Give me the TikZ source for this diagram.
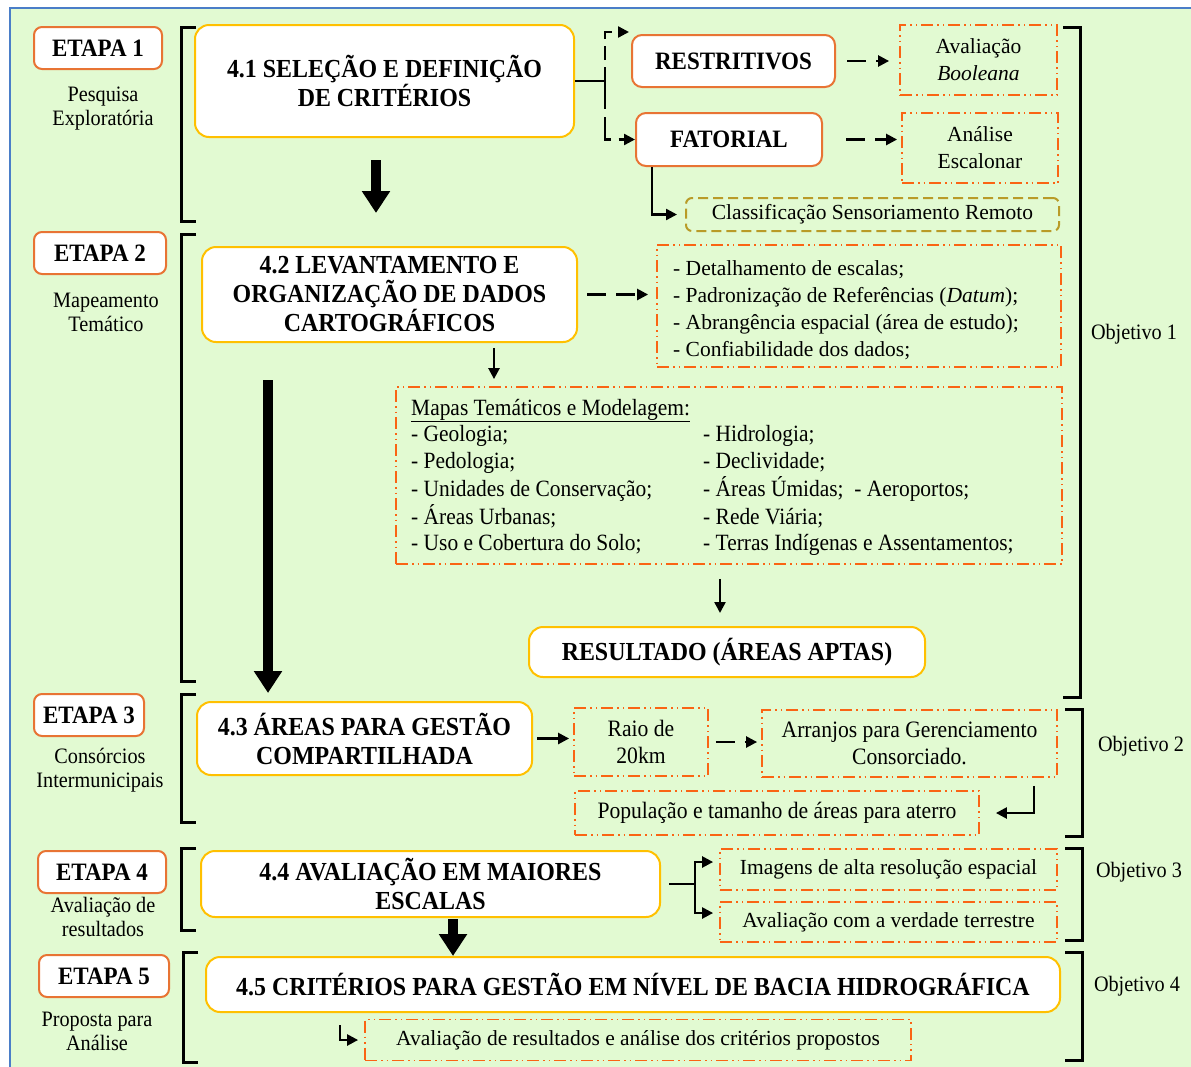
\documentclass[tikz,border=0pt]{standalone}
\usepackage{fontspec}
\setmainfont{Liberation Serif}
\newfontfamily\cf[FakeStretch=0.92]{Liberation Serif}
\usetikzlibrary{arrows.meta,calc}
\definecolor{bggreen}{RGB}{226,250,210}
\definecolor{bordblue}{RGB}{74,126,200}
\definecolor{etorange}{RGB}{232,116,52}
\definecolor{ddorange}{RGB}{250,100,20}
\definecolor{goldc}{RGB}{255,192,0}
\definecolor{olivec}{RGB}{185,155,40}
\tikzset{
  etapa/.style={draw=etorange, line width=2pt, rounded corners=8pt, fill=white, inner sep=0pt,
    font=\cf\bfseries\fontsize{25}{29}\selectfont},
  sublab/.style={inner sep=0pt, align=center, font=\cf\fontsize{22}{24}\selectfont},
  objlab/.style={inner sep=0pt, font=\cf\fontsize{22}{24}\selectfont},
  mainbox/.style={draw=goldc, line width=2pt, rounded corners=14pt, fill=white, align=center, inner sep=0pt,
    font=\cf\bfseries\fontsize{26}{29}\selectfont},
  critbox/.style={draw=etorange, line width=2pt, rounded corners=10pt, fill=white, inner sep=0pt,
    font=\cf\bfseries\fontsize{25}{29}\selectfont},
  ddbox/.style={draw=ddorange, line width=1.8pt, dash pattern=on 12pt off 4pt on 1.5pt off 4pt on 1.5pt off 4pt,
    inner sep=0pt, align=center, font=\fontsize{21.5}{27}\selectfont},
  ddcond/.style={ddbox, font=\cf\fontsize{23.5}{27}\selectfont},
  olivebox/.style={draw=olivec, line width=2pt, dash pattern=on 10pt off 5pt, rounded corners=6pt,
    inner sep=0pt, font=\fontsize{21.5}{27}\selectfont},
  brk/.style={line width=3pt, black},
  conn/.style={line width=2.4pt, -{Triangle[width=11pt,length=11pt]}},
  dconn/.style={conn, dash pattern=on 19pt off 10pt},
  bigarrow/.style={line width=9.5pt, -{Triangle[width=27pt,length=22pt]}}
}
\begin{document}
\begin{tikzpicture}[x=1pt,y=-1pt]
\useasboundingbox (0,0) rectangle (1191,1066);
\fill[white] (0,0) rectangle (1191,1066);
\fill[bggreen] (10,8) rectangle (1195,1070);
\draw[bordblue, line width=1.5pt] (10,1070) -- (10,8) -- (1195,8);

% brackets left
\draw[brk] (196,27) -- (181,27) -- (181,221) -- (196,221);
\draw[brk] (196,234) -- (181,234) -- (181,681) -- (196,681);
\draw[brk] (196,694) -- (181,694) -- (181,822) -- (196,822);
\draw[brk] (196,848) -- (181,848) -- (181,930) -- (196,930);
\draw[brk] (198,952) -- (183,952) -- (183,1062) -- (198,1062);
% brackets right
\draw[brk] (1063,27) -- (1080,27) -- (1080,697) -- (1063,697);
\draw[brk] (1065,709) -- (1082,709) -- (1082,836) -- (1065,836);
\draw[brk] (1065,848) -- (1082,848) -- (1082,940) -- (1065,940);
\draw[brk] (1065,952) -- (1082,952) -- (1082,1060) -- (1065,1060);

% etapas
\node[etapa, minimum width=128pt, minimum height=42pt] (e1) at (98,48) {ETAPA 1};
\node[etapa, minimum width=132pt, minimum height=42pt] (e2) at (100,253) {ETAPA 2};
\node[etapa, minimum width=110pt, minimum height=42pt] (e3) at (89,715) {ETAPA 3};
\node[etapa, minimum width=128pt, minimum height=42pt] (e4) at (102,872) {ETAPA 4};
\node[etapa, minimum width=130pt, minimum height=42pt] (e5) at (104,976) {ETAPA 5};

\node[sublab] (l1) at (103,109) {Pesquisa\\Exploratória};
\node[sublab] (l2) at (106,312) {Mapeamento\\Temático};
\node[sublab] (l3) at (100,770) {Consórcios\\Intermunicipais};
\node[sublab] (l4) at (103,917) {Avaliação de\\resultados};
\node[sublab] (l5) at (97,1031) {Proposta para\\Análise};

% objetivos
\node[objlab] (o1) at (1134,334) {Objetivo 1};
\node[objlab] (o2) at (1141,746) {Objetivo 2};
\node[objlab] (o3) at (1139,872) {Objetivo 3};
\node[objlab] (o4) at (1137,986) {Objetivo 4};

% main boxes
\node[mainbox, minimum width=379pt, minimum height=112pt] (b41) at (384.5,81) {4.1 SELEÇÃO E DEFINIÇÃO\\DE CRITÉRIOS};
\node[mainbox, minimum width=375pt, minimum height=95pt] (b42) at (389.5,294.5) {4.2 LEVANTAMENTO E\\ORGANIZAÇÃO DE DADOS\\CARTOGRÁFICOS};
\node[mainbox, minimum width=396pt, minimum height=50pt] (res) at (727,652) {RESULTADO (ÁREAS APTAS)};
\node[mainbox, minimum width=335pt, minimum height=73pt] (b43) at (364.5,738.5) {4.3 ÁREAS PARA GESTÃO\\COMPARTILHADA};
\node[mainbox, minimum width=459pt, minimum height=66pt] (b44) at (430.5,884) {4.4 AVALIAÇÃO EM MAIORES\\ESCALAS};
\node[mainbox, minimum width=854pt, minimum height=55pt] (b45) at (633,984.5) {4.5 CRITÉRIOS PARA GESTÃO EM NÍVEL DE BACIA HIDROGRÁFICA};

% criteria
\node[critbox, minimum width=203pt, minimum height=52pt] (rest) at (733.5,61) {RESTRITIVOS};
\node[critbox, minimum width=186pt, minimum height=53pt] (fat) at (729,139.5) {FATORIAL};

% dash-dot boxes
\node[ddbox, minimum width=157pt, minimum height=70pt] (bool) at (978.5,60) {Avaliação\\\textit{Booleana}};
\node[ddbox, minimum width=156pt, minimum height=70pt] (esc) at (980,148) {Análise\\Escalonar};
\node[olivebox, minimum width=373pt, minimum height=33pt] (cls) at (872.5,214.5) {Classificação Sensoriamento Remoto};
\node[ddbox, minimum width=404pt, minimum height=122pt] (det) at (859,306) {};
\node[anchor=base west, inner sep=0pt, font=\fontsize{21.5}{27}\selectfont] (dettxt) at (673,275) {%
\begin{tabular}[t]{@{}l@{}}
- Detalhamento de escalas;\\
- Padronização de Referências (\textit{Datum});\\
- Abrangência espacial (área de estudo);\\
- Confiabilidade dos dados;
\end{tabular}};
\node[ddbox, minimum width=666pt, minimum height=177pt] (map) at (729,475.5) {};
\node[anchor=base west, inner sep=0pt, font=\cf\fontsize{23.3}{26.6}\selectfont] (maptxt) at (411,415) {%
\begin{tabular}[t]{@{}p{292pt}@{}l@{}}
\multicolumn{2}{@{}l@{}}{\underline{Mapas Temáticos e Modelagem:}}\\
- Geologia; & - Hidrologia;\\
- Pedologia; & - Declividade;\\
- Unidades de Conservação; & - Áreas Úmidas;\ \ - Aeroportos;\\
- Áreas Urbanas; & - Rede Viária;\\
- Uso e Cobertura do Solo; & - Terras Indígenas e Assentamentos;
\end{tabular}};
\node[ddcond, minimum width=134pt, minimum height=68pt] (raio) at (641,742) {Raio de\\20km};
\node[ddcond, minimum width=295pt, minimum height=67pt] (arr) at (909.5,743.5) {Arranjos para Gerenciamento\\Consorciado.};
\node[ddcond, minimum width=404pt, minimum height=44pt] (pop) at (777,813) {População e tamanho de áreas para aterro};
\node[ddbox, minimum width=337pt, minimum height=41pt] (img) at (888.5,869.5) {Imagens de alta resolução espacial};
\node[ddbox, minimum width=337pt, minimum height=40pt] (ver) at (888.5,922) {Avaliação com a verdade terrestre};
\node[ddbox, minimum width=546pt, minimum height=41pt] (av5) at (638,1040) {Avaliação de resultados e análise dos critérios propostos};

% big arrows
\coordinate (a1s) at (376,160); \coordinate (a1e) at (376,213);
\coordinate (a2s) at (268,380); \coordinate (a2e) at (268,693);
\coordinate (a3s) at (453,919); \coordinate (a3e) at (453,956);
\draw[bigarrow] (a1s) -- (a1e);
\draw[bigarrow] (a2s) -- (a2e);
\draw[bigarrow] (a3s) -- (a3e);

% 4.1 -> criteria
\coordinate (j1) at (605,81);
\draw[line width=2.4pt] (b41.east) -- (j1);
\draw[conn, dash pattern=on 14pt off 7pt] (j1) |- ([xshift=-2pt,yshift=2pt]rest.north west);
\draw[conn, dash pattern=on 28pt off 8pt] (j1) |- (fat.west);
\draw[dconn] ([xshift=11pt]rest.east) -- ([xshift=-10pt]rest.east -| bool.west);
\draw[dconn] ([xshift=23pt]fat.east) -- ([xshift=-4pt]fat.east -| esc.west);
\draw[conn] ([xshift=-77pt]fat.south) |- ([xshift=-8pt]cls.west);

% 4.2 connectors
\draw[dconn] ([xshift=9pt]b42.east) -- ([xshift=-8pt]b42.east -| det.west);
\coordinate (mx) at (494,0);
\draw[conn] ([yshift=-5pt]b42.south -| mx) -- ([yshift=7pt]map.north -| mx);
\coordinate (rx) at (720,0);
\draw[conn] ([yshift=-14pt]map.south -| rx) -- ([yshift=13pt]res.north -| rx);

% 4.3 connectors
\draw[conn] ([xshift=4pt]b43.east) -- ([xshift=-4pt]b43.east -| raio.west);
\draw[dconn] ([xshift=7pt]raio.east) -- ([xshift=-4pt]raio.east -| arr.west);
\draw[conn] ([xshift=124.5pt,yshift=-8pt]arr.south) |- ([xshift=16pt]pop.east);

% 4.4 connectors
\coordinate (j4) at (695,884);
\draw[line width=2.4pt] ([xshift=8pt]b44.east) -- (j4);
\draw[conn] (j4) |- ([xshift=-6pt,yshift=7.5pt]img.west);
\draw[conn] (j4) |- ([xshift=-6pt,yshift=9pt]ver.west);

% 4.5 connector
\draw[conn] ([xshift=-293pt,yshift=-12pt]b45.south) |- ([xshift=-6pt]av5.west);
\end{tikzpicture}
\end{document}
